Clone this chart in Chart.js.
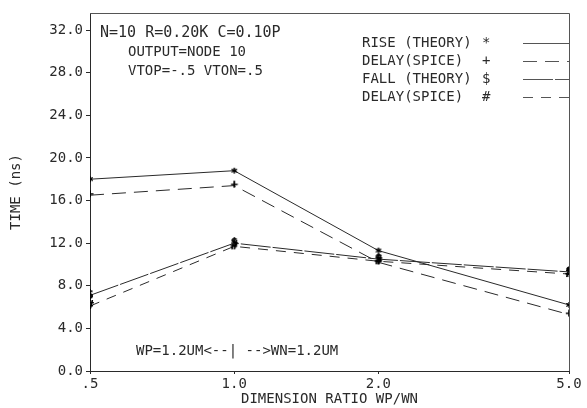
<!DOCTYPE html>
<html>
<head>
<meta charset="utf-8">
<script src="https://cdn.jsdelivr.net/npm/chart.js@4/dist/chart.umd.min.js"></script>
<style>
  html, body { margin: 0; padding: 0; background: #fff; }
  #wrap { width: 587px; height: 408px; position: relative; }
</style>
</head>
<body>
<div id="wrap"><canvas id="delay-chart"></canvas></div>
<script>
// values
const ratios = [0.5, 1.0, 2.0, 5.0];
const ratioLabels = ['.5', '1.0', '2.0', '5.0'];
const riseTheory = [18.0, 18.8, 11.3, 6.2];
const riseSpice = [16.5, 17.4, 10.2, 5.3];
const fallTheory = [7.1, 12.0, 10.5, 9.3];
const fallSpice = [6.1, 11.7, 10.3, 9.1];
const timeTicks = [0, 4, 8, 12, 16, 20, 24, 28, 32];

const ink = '#2a2a2a';
const font = "'DejaVu Sans Mono', 'Liberation Mono', monospace";

// small canvas with a plotter character, used as point marker
function glyph(ch) {
    const c = document.createElement('canvas');
    c.width = 10; c.height = 12;
    const g = c.getContext('2d');
    g.fillStyle = '#000';
    g.font = 'bold 12px ' + font;
    g.textAlign = 'center';
    g.textBaseline = 'middle';
    // the asterisk sits high in its box, pull it down onto the point
    const dy = ch === '*' ? 9 : 6;
    g.fillText(ch, 5, dy);
    g.fillText(ch, 5, dy);
    return c;
}

function series(label, sym, values, dash) {
    return {
        label: label,
        sym: sym,
        data: ratios.map((x, i) => ({x: x, y: values[i]})),
        borderColor: ink,
        borderWidth: 1,
        borderDash: dash,
        pointStyle: glyph(sym),
        pointRadius: 4,
        tension: 0,
        fill: false
    };
}

// frame, notes and legend in the plot's own style
const notes = {
    id: 'notes',
    afterDraw(chart) {
        const ctx = chart.ctx;
        const a = chart.chartArea;
        ctx.save();
        ctx.strokeStyle = '#555';
        ctx.lineWidth = 1;
        ctx.beginPath();
        ctx.moveTo(a.left, a.top + 0.5);
        ctx.lineTo(a.right + 0.5, a.top + 0.5);
        ctx.lineTo(a.right + 0.5, a.bottom);
        ctx.stroke();

        ctx.fillStyle = ink;
        ctx.textBaseline = 'middle';
        ctx.font = '15px ' + font;
        ctx.fillText('N=10 R=0.20K C=0.10P', 100, 33);
        ctx.font = '14px ' + font;
        ctx.fillText('OUTPUT=NODE 10', 128, 52);
        ctx.fillText('VTOP=-.5 VTON=.5', 128, 71);
        ctx.fillText('WP=1.2UM<--| -->WN=1.2UM', 136, 351);

        const names = ['RISE (THEORY)', 'DELAY(SPICE)', 'FALL (THEORY)', 'DELAY(SPICE)'];
        chart.data.datasets.forEach((ds, i) => {
            const y = 43 + i * 18;
            ctx.fillText(names[i], 362, y);
            ctx.fillText(ds.sym, 482, y);
            ctx.setLineDash(ds.borderDash || []);
            ctx.beginPath();
            ctx.moveTo(523, y + 0.5);
            ctx.lineTo(a.right, y + 0.5);
            ctx.stroke();
        });
        ctx.restore();
    }
};

const config = {
    type: 'line',
    data: {
        datasets: [
            series('RISE (THEORY)', '*', riseTheory, []),
            series('DELAY(SPICE)', '+', riseSpice, [14, 8]),
            series('FALL (THEORY)', '$', fallTheory, [30, 2]),
            series('DELAY(SPICE)', '#', fallSpice, [10, 8])
        ]
    },
    options: {
        responsive: true,
        maintainAspectRatio: false,
        animation: false,
        layout: { padding: { top: 13, right: 18, left: 0, bottom: 0 } },
        plugins: {
            legend: { display: false },
            tooltip: { enabled: false }
        },
        scales: {
            x: {
                type: 'logarithmic',
                min: 0.5,
                max: 5,
                afterBuildTicks: s => { s.ticks = ratios.map(v => ({value: v})); },
                afterFit: s => { s.height = 37; },
                border: { color: ink, width: 1 },
                grid: { drawOnChartArea: false, tickLength: 3, color: ink },
                ticks: {
                    color: ink,
                    font: { family: font, size: 14 },
                    padding: 2,
                    maxRotation: 0,
                    autoSkip: false,
                    callback: (v) => ratioLabels[ratios.indexOf(v)]
                },
                title: {
                    display: true,
                    text: 'DIMENSION RATIO WP/WN',
                    color: ink,
                    font: { family: font, size: 14 },
                    padding: { top: 0, bottom: 0 }
                }
            },
            y: {
                min: 0,
                max: 33.6,
                afterBuildTicks: s => { s.ticks = timeTicks.map(v => ({value: v})); },
                afterFit: s => { s.width = 90; },
                border: { color: ink, width: 1 },
                grid: { drawOnChartArea: false, tickLength: 4, color: ink },
                ticks: {
                    color: ink,
                    font: { family: font, size: 14 },
                    padding: 3,
                    callback: v => v.toFixed(1)
                },
                title: {
                    display: true,
                    text: 'TIME (ns)',
                    color: ink,
                    font: { family: font, size: 14 },
                    padding: { top: 8, bottom: 0 }
                }
            }
        }
    },
    plugins: [notes]
};

const context = document.getElementById('delay-chart').getContext('2d');
const delayChart = new Chart(context, config);
</script>
</body>
</html>
